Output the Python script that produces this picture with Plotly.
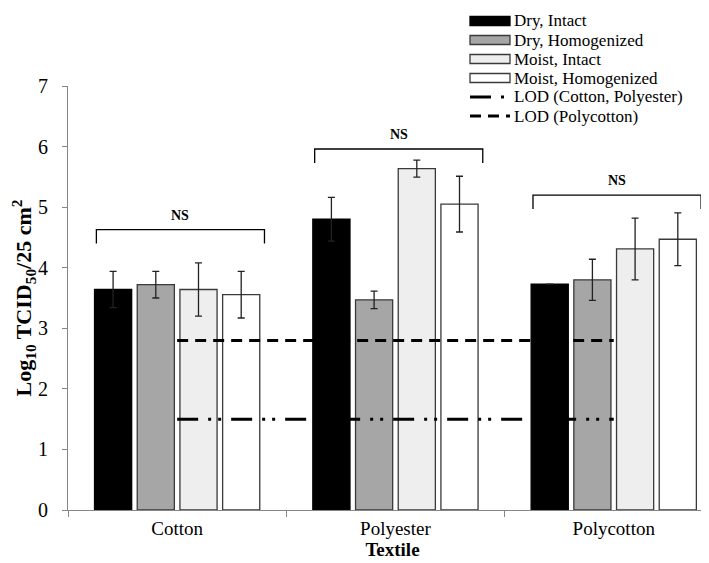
import plotly.graph_objects as go

# ---------------- data ----------------
categories = ["Cotton", "Polyester", "Polycotton"]
series_names = ["Dry, Intact", "Dry, Homogenized", "Moist, Intact", "Moist, Homogenized"]

dry_intact = [3.64, 4.80, 3.73]
dry_intact_err = [0.30, 0.36, 0.0]
dry_homog = [3.72, 3.47, 3.80]
dry_homog_err = [0.22, 0.145, 0.34]
moist_intact = [3.64, 5.635, 4.31]
moist_intact_err = [0.44, 0.14, 0.51]
moist_homog = [3.555, 5.05, 4.47]
moist_homog_err = [0.385, 0.46, 0.435]

lod_names = ["LOD (Cotton, Polyester)", "LOD (Polycotton)"]
lod_cotton_polyester = [1.5, 1.5, 1.5]
lod_polycotton = [2.8, 2.8, 2.8]

sig_labels = ["NS", "NS", "NS"]
sig_bracket_y = [4.63, 5.96, 5.20]

y_ticks = [0, 1, 2, 3, 4, 5, 6, 7]

# ---------------- styling ----------------
FONT = "Liberation Serif"
W, H = 709, 563
ML, MR, MT, MB = 60, 0, 78, 61
PW, PH = W - ML - MR, H - MT - MB
CAT_PX = 218.3
AXIS_COL = "#868686"
EDGE = "#3a3a3a"

fills = ["#000000", "#a6a6a6", "#eeeeee", "#ffffff"]
edges = ["#000000", EDGE, EDGE, EDGE]
values = [dry_intact, dry_homog, moist_intact, moist_homog]
errors = [dry_intact_err, dry_homog_err, moist_intact_err, moist_homog_err]

xpos = list(range(len(categories)))

fig = go.Figure()
for name, v, e, fc, ec in zip(series_names, values, errors, fills, edges):
    fig.add_trace(go.Bar(
        x=xpos, y=v, name=name,
        marker=dict(color=fc, line=dict(color=ec, width=1.3)),
        error_y=dict(type="data", array=e, visible=True, color="#222222",
                     thickness=1.3, width=3.5),
        showlegend=False,
    ))

lod_dashes = ["21px,10px,3px,7px,3px,10px", "11px,7px"]
for name, yv, dash in zip(lod_names, [lod_cotton_polyester, lod_polycotton], lod_dashes):
    fig.add_trace(go.Scatter(
        x=xpos, y=yv, name=name, mode="lines",
        line=dict(color="#000000", width=3, dash=dash),
        showlegend=False,
    ))

# significance brackets
shapes = []
annotations = []
for i, (lab, yb) in enumerate(zip(sig_labels, sig_bracket_y)):
    x0, x1 = i - 0.37, i + 0.40
    y1 = yb - 0.23
    shapes.append(dict(type="path", xref="x", yref="y",
                       path=f"M{x0},{y1} L{x0},{yb} L{x1},{yb} L{x1},{y1}",
                       line=dict(color="#000000", width=1.3)))
    annotations.append(dict(x=i + 0.015, y=yb + 0.24, xref="x", yref="y",
                            text=f"<b>{lab}</b>", showarrow=False,
                            font=dict(family=FONT, size=14, color="#000000"),
                            xanchor="center", yanchor="middle"))

# manual legend (compact, Excel-like)
def px_x(px):
    return (px - ML) / PW

def px_y(py):
    return (H - MB - py) / PH

legend_rows = [13, 32, 51, 70, 89, 108]
sw_x0, sw_x1, txt_x = 462, 502, 505
legend_labels = series_names + lod_names
for k, row in enumerate(legend_rows):
    if k < 4:
        shapes.append(dict(type="rect", xref="paper", yref="paper",
                           x0=px_x(sw_x0), x1=px_x(sw_x1),
                           y0=px_y(row + 4.5), y1=px_y(row - 4.5),
                           fillcolor=fills[k], line=dict(color=edges[k], width=1.3)))
    else:
        shapes.append(dict(type="line", xref="paper", yref="paper",
                           x0=px_x(sw_x0), x1=px_x(sw_x1),
                           y0=px_y(row), y1=px_y(row),
                           line=dict(color="#000000", width=3, dash=lod_dashes[k - 4])))
    annotations.append(dict(x=px_x(txt_x), y=px_y(row), xref="paper", yref="paper",
                            text=legend_labels[k], showarrow=False,
                            font=dict(family=FONT, size=17, color="#000000"),
                            borderpad=0,
                            xanchor="left", yanchor="middle"))

fig.update_layout(
    width=W, height=H,
    margin=dict(l=ML, r=MR, t=MT, b=MB, pad=0),
    paper_bgcolor="white", plot_bgcolor="white",
    barmode="group", bargap=0.2176, bargroupgap=0.13,
    showlegend=False,
    font=dict(family=FONT, size=19, color="#000000"),
    shapes=shapes, annotations=annotations,
)

fig.update_xaxes(
    range=[-0.5, -0.5 + PW / CAT_PX],
    tickmode="array", tickvals=xpos, ticktext=categories,
    ticks="outside", ticklen=1, tickcolor="rgba(0,0,0,0)",
    minor=dict(tickmode="array", tickvals=[-0.5, 0.5, 1.5], ticks="outside",
               ticklen=6, tickcolor=AXIS_COL, tickwidth=1),
    showline=True, linecolor=AXIS_COL, linewidth=1,
    showgrid=False, zeroline=False,
    tickfont=dict(family=FONT, size=19, color="#000000"),
    title=dict(text="<b>Textile</b>", font=dict(family=FONT, size=19, color="#000000"),
               standoff=0),
)

fig.update_yaxes(
    range=[0, 7], tickmode="array", tickvals=y_ticks,
    ticks="outside", ticklen=5, tickcolor=AXIS_COL,
    showline=True, linecolor=AXIS_COL, linewidth=1,
    showgrid=False, zeroline=False,
    ticklabelstandoff=10,
    tickfont=dict(family=FONT, size=20, color="#000000"),
    title=dict(text="<b>Log<sub>10</sub> TCID<sub>50</sub>/25 cm<sup>2</sup></b>",
               font=dict(family=FONT, size=22, color="#000000"), standoff=4),
)

fig.write_html("out.html")
